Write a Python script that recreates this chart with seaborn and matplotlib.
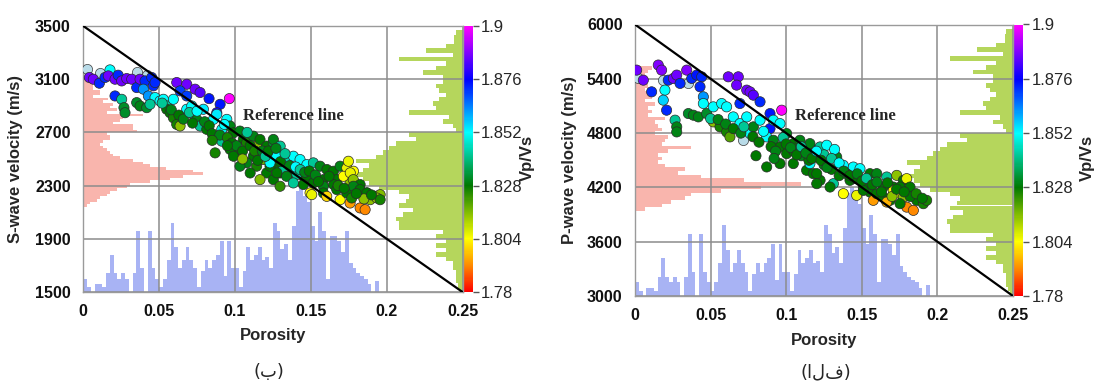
import numpy as np
import matplotlib
matplotlib.use("Agg")
import matplotlib.pyplot as plt
import seaborn as sns
from matplotlib.colors import LinearSegmentedColormap, Normalize
from matplotlib.cm import ScalarMappable

sns.set_theme(style="white")
plt.rcParams['font.family'] = ['Liberation Sans', 'DejaVu Sans']

# ---------------- data: S-wave panel (ب) ----------------
phi_s = [0.004, 0.0066, 0.0106, 0.0143, 0.0176, 0.0165, 0.0209, 0.023, 0.0253, 0.0286,
         0.0319, 0.0352, 0.0374, 0.0407, 0.0451, 0.0462, 0.0473, 0.0396, 0.0429, 0.0473,
         0.0209, 0.0253, 0.0268, 0.0275, 0.0352, 0.0374, 0.0418, 0.044, 0.0506, 0.0528,
         0.055, 0.0594, 0.0616, 0.0682, 0.0737, 0.077, 0.0829, 0.0902, 0.0963, 0.088,
         0.0638, 0.0682, 0.055, 0.0572, 0.0594, 0.0616, 0.0638, 0.0682, 0.0715, 0.0726,
         0.0748, 0.077, 0.0792, 0.0814, 0.0858, 0.088, 0.0913, 0.0946, 0.0968, 0.099,
         0.1033, 0.1055, 0.1077, 0.1121, 0.1143, 0.1165, 0.1209, 0.1253, 0.0869, 0.0913,
         0.0968, 0.1033, 0.1121, 0.1187, 0.1242, 0.1275, 0.099, 0.1077, 0.1143, 0.1209,
         0.1253, 0.1297, 0.1165, 0.11, 0.1033, 0.1231, 0.1286, 0.1297, 0.1253, 0.1298,
         0.1276, 0.1342, 0.1385, 0.1429, 0.1474, 0.1517, 0.1561, 0.1606, 0.1649, 0.1693,
         0.1737, 0.1781, 0.1748, 0.1583, 0.1671, 0.1759, 0.1451, 0.1363, 0.1231, 0.1319,
         0.1276, 0.134, 0.1408, 0.1474, 0.1517, 0.1583, 0.165, 0.1715, 0.176, 0.178,
         0.1825, 0.187, 0.1935, 0.1957, 0.1385, 0.1451, 0.1495, 0.1506, 0.1583, 0.1605,
         0.1671, 0.1693, 0.1737, 0.1759, 0.177, 0.1781, 0.1825, 0.1825, 0.1858, 0.187,
         0.1891, 0.1935, 0.1957,
         0.052, 0.058, 0.063, 0.066, 0.07, 0.072, 0.075, 0.08, 0.083, 0.085,
         0.09, 0.093, 0.095, 0.098, 0.101, 0.105, 0.108, 0.11, 0.113, 0.115,
         0.118, 0.12, 0.122, 0.127, 0.13, 0.133, 0.136, 0.14, 0.143, 0.146,
         0.149, 0.153, 0.155, 0.162, 0.168, 0.172, 0.185, 0.19, 0.18, 0.105,
         0.095, 0.085]
vs = [3113, 3100, 3070, 3113, 3170, 3125, 3100, 3130, 3087, 3105,
      3100, 3037, 3100, 3087, 3113, 3050, 3075, 3025, 2974, 2962,
      2974, 2949, 2886, 2848, 2924, 2899, 2886, 2911, 2936, 2949,
      2899, 2949, 3075, 3062, 3025, 3000, 2954, 2911, 2954, 2848,
      3012, 2974, 2874, 2848, 2810, 2760, 2748, 2874, 2899, 2836,
      2798, 2748, 2874, 2723, 2798, 2836, 2723, 2798, 2748, 2697,
      2710, 2647, 2622, 2672, 2597, 2647, 2597, 2622, 2546, 2634,
      2572, 2546, 2521, 2496, 2521, 2446, 2521, 2471, 2446, 2395,
      2345, 2295, 2345, 2395, 2446, 2446, 2521, 2395, 2647, 2597,
      2521, 2496, 2521, 2496, 2458, 2471, 2446, 2421, 2408, 2446,
      2433, 2408, 2483, 2345, 2345, 2320, 2370, 2396, 2471, 2421,
      2396, 2370, 2383, 2358, 2320, 2295, 2308, 2370, 2396, 2345,
      2308, 2245, 2220, 2232, 2320, 2308, 2245, 2232, 2245, 2219,
      2270, 2194, 2245, 2169, 2207, 2295, 2270, 2132, 2119, 2245,
      2194, 2207, 2194,
      2920, 2870, 2830, 2800, 2850, 2770, 2860, 2780, 2750, 2690,
      2680, 2760, 2660, 2620, 2600, 2560, 2700, 2600, 2560, 2490,
      2560, 2520, 2560, 2580, 2480, 2540, 2450, 2440, 2420, 2400,
      2410, 2380, 2330, 2370, 2300, 2280, 2200, 2230, 2240, 2500,
      2600, 2640]
vpvs_s = [1.886, 1.886, 1.872, 1.872, 1.852, 1.886, 1.886, 1.872, 1.886, 1.886,
          1.886, 1.872, 1.886, 1.872, 1.872, 1.872, 1.872, 1.862, 1.862, 1.852,
          1.872, 1.842, 1.832, 1.832, 1.832, 1.830, 1.832, 1.842, 1.852, 1.852,
          1.842, 1.852, 1.886, 1.886, 1.886, 1.884, 1.874, 1.874, 1.900, 1.878,
          1.870, 1.870, 1.828, 1.828, 1.826, 1.826, 1.815, 1.852, 1.852, 1.842,
          1.830, 1.842, 1.854, 1.828, 1.852, 1.854, 1.850, 1.852, 1.830, 1.828,
          1.830, 1.828, 1.826, 1.830, 1.815, 1.828, 1.828, 1.832, 1.826, 1.842,
          1.828, 1.828, 1.828, 1.818, 1.830, 1.828, 1.828, 1.830, 1.826, 1.828,
          1.828, 1.824, 1.816, 1.828, 1.830, 1.828, 1.832, 1.828, 1.830, 1.842,
          1.852, 1.844, 1.852, 1.852, 1.852, 1.842, 1.830, 1.828, 1.828, 1.830,
          1.806, 1.804, 1.806, 1.828, 1.828, 1.815, 1.828, 1.830, 1.852, 1.842,
          1.828, 1.830, 1.842, 1.828, 1.828, 1.830, 1.828, 1.804, 1.806, 1.815,
          1.828, 1.826, 1.816, 1.816, 1.842, 1.828, 1.804, 1.806, 1.828, 1.800,
          1.828, 1.804, 1.828, 1.794, 1.826, 1.830, 1.828, 1.792, 1.792, 1.828,
          1.815, 1.815, 1.826,
          1.842, 1.830, 1.828, 1.830, 1.842, 1.828, 1.852, 1.830, 1.828, 1.828,
          1.830, 1.852, 1.826, 1.828, 1.830, 1.828, 1.842, 1.828, 1.826, 1.828,
          1.830, 1.842, 1.828, 1.830, 1.828, 1.842, 1.830, 1.852, 1.842, 1.830,
          1.828, 1.830, 1.828, 1.828, 1.826, 1.828, 1.815, 1.828, 1.828, 1.815,
          1.828, 1.826]
phi_s_pale = [0.0026, 0.011, 0.0352, 0.0418]
vs_pale = [3180, 3145, 3155, 3130]

# ---------------- data: P-wave panel (الف) ----------------
phi_p = [0.0011, 0.0055, 0.011, 0.0154, 0.0176, 0.0198, 0.0187, 0.0209, 0.022, 0.0254,
         0.0276, 0.0298, 0.0342, 0.0375, 0.0408, 0.0441, 0.043, 0.0452, 0.0265, 0.0276,
         0.0276, 0.0353, 0.0386, 0.0419, 0.0452, 0.0474, 0.0518, 0.0518, 0.0573, 0.0606,
         0.0617, 0.0683, 0.0672, 0.0694, 0.0739, 0.0761, 0.0783, 0.0827, 0.0893, 0.097,
         0.0893, 0.0562, 0.0606, 0.0628, 0.065, 0.0694, 0.0739, 0.0761, 0.0783, 0.0827,
         0.0871, 0.0915, 0.0959, 0.0915, 0.0959, 0.1003, 0.1047, 0.1091, 0.1135, 0.1179,
         0.1201, 0.0871, 0.0959, 0.1003, 0.1047, 0.1135, 0.1179, 0.1224, 0.1157, 0.1224,
         0.1268, 0.1334, 0.1378, 0.1444, 0.1488, 0.1554, 0.1599, 0.1665, 0.1731, 0.1775,
         0.1797, 0.1819, 0.1708, 0.1642, 0.1157, 0.1202, 0.1312, 0.1422, 0.151, 0.1554,
         0.1753, 0.1378, 0.1466, 0.1576, 0.1599, 0.1642, 0.1687, 0.1708, 0.1753, 0.1775,
         0.1797, 0.1841, 0.1863, 0.1907, 0.1929, 0.1753, 0.1665, 0.129, 0.1202, 0.151,
         0.105, 0.11, 0.115, 0.125, 0.13, 0.135, 0.14, 0.145, 0.125, 0.132,
         0.05, 0.055, 0.06, 0.065, 0.07, 0.072, 0.078, 0.082, 0.085, 0.09,
         0.093, 0.098, 0.1, 0.103, 0.107, 0.11, 0.113, 0.117, 0.12, 0.123,
         0.127, 0.13, 0.135, 0.138, 0.142, 0.147, 0.15, 0.153, 0.157, 0.16,
         0.163, 0.167, 0.17, 0.173, 0.182, 0.186, 0.178, 0.19, 0.08, 0.092]
vp = [5496, 5385, 5256, 5552, 5496, 5275, 5164, 5053, 5385, 5404,
      5441, 5349, 5496, 5404, 5441, 5422, 5312, 5201, 4943, 4869,
      4813, 5016, 4998, 4979, 5127, 5016, 5090, 4924, 5127, 5090,
      5422, 5422, 5330, 5127, 5275, 5256, 5219, 5146, 5016, 5053,
      4850, 4869, 4813, 4758, 4979, 4905, 4979, 4795, 4869, 4943,
      4758, 4943, 4905, 4721, 4647, 4795, 4684, 4721, 4647, 4610,
      4536, 4426, 4463, 4573, 4463, 4389, 4352, 4278, 4684, 4647,
      4666, 4536, 4444, 4425, 4407, 4352, 4352, 4315, 4333, 4278,
      4297, 4204, 4204, 4204, 4463, 4352, 4241, 4278, 4204, 4148,
      4131, 4131, 4112, 4057, 4131, 4093, 4057, 4167, 4204, 4093,
      3982, 3946, 4057, 4020, 4057, 4020, 4038, 4204, 4241, 4167,
      4600, 4550, 4500, 4450, 4400, 4330, 4350, 4300, 4560, 4620,
      4960, 4950, 4900, 4850, 4800, 4870, 4760, 4700, 4820, 4650,
      4600, 4750, 4680, 4640, 4560, 4650, 4580, 4520, 4600, 4500,
      4420, 4520, 4470, 4380, 4330, 4350, 4270, 4300, 4230, 4260,
      4150, 4250, 4100, 4180, 4100, 4130, 4150, 4080, 4550, 4520]
vpvs_p = [1.886, 1.886, 1.872, 1.888, 1.888, 1.852, 1.856, 1.872, 1.872, 1.886,
          1.886, 1.872, 1.888, 1.872, 1.874, 1.872, 1.872, 1.862, 1.842, 1.830,
          1.830, 1.832, 1.830, 1.830, 1.852, 1.832, 1.852, 1.815, 1.852, 1.852,
          1.886, 1.886, 1.886, 1.872, 1.886, 1.886, 1.884, 1.872, 1.874, 1.900,
          1.874, 1.826, 1.826, 1.820, 1.852, 1.852, 1.852, 1.852, 1.830, 1.852,
          1.852, 1.852, 1.852, 1.830, 1.828, 1.830, 1.828, 1.830, 1.828, 1.828,
          1.828, 1.828, 1.828, 1.828, 1.828, 1.828, 1.828, 1.828, 1.830, 1.842,
          1.852, 1.830, 1.852, 1.852, 1.852, 1.828, 1.830, 1.842, 1.815, 1.828,
          1.806, 1.828, 1.828, 1.828, 1.852, 1.828, 1.842, 1.828, 1.828, 1.828,
          1.804, 1.804, 1.806, 1.794, 1.828, 1.828, 1.828, 1.804, 1.828, 1.815,
          1.792, 1.792, 1.828, 1.826, 1.826, 1.828, 1.796, 1.828, 1.828, 1.828,
          1.828, 1.830, 1.828, 1.830, 1.828, 1.828, 1.830, 1.828, 1.842, 1.852,
          1.842, 1.830, 1.830, 1.828, 1.830, 1.842, 1.828, 1.828, 1.852, 1.828,
          1.830, 1.842, 1.828, 1.830, 1.828, 1.842, 1.830, 1.828, 1.852, 1.828,
          1.830, 1.842, 1.852, 1.830, 1.828, 1.830, 1.828, 1.842, 1.828, 1.830,
          1.828, 1.828, 1.815, 1.828, 1.828, 1.826, 1.828, 1.828, 1.828, 1.830]
phi_p_pale = [0.0022, 0.0187, 0.0353, 0.0717]
vp_pale = [5404, 5385, 5349, 4721]

# ---------------- marginal histograms ----------------
# porosity histogram, 80 bins of 0.0025 from 0 to 0.2
phi_hist_counts = [5, 2, 0, 3, 3, 2, 7, 14, 7, 5, 7, 5, 0, 7, 23, 9, 0, 23, 9, 5,
                   2, 5, 12, 26, 17, 9, 12, 17, 12, 9, 2, 8, 12, 9, 12, 14, 19, 6, 19, 9,
                   9, 2, 8, 17, 12, 14, 17, 12, 13, 9, 26, 23, 16, 18, 12, 25, 38, 40, 36, 34,
                   25, 19, 30, 23, 5, 21, 21, 19, 15, 23, 11, 9, 7, 6, 5, 3, 0, 4, 0, 0]
# S-wave velocity histogram, 49 bins of 20 m/s from 2140 to 3120
vs_hist_counts = [1, 2, 4, 5, 7, 8, 10, 13, 14, 20, 26, 30, 36, 33, 25, 20, 18, 15, 11, 9,
                  8, 7, 6, 5, 6, 8, 8, 7, 16, 15, 15, 9, 11, 12, 18, 7, 10, 8, 9, 6,
                  7.5, 3, 5, 5, 3, 3, 3, 3, 3]
# P-wave velocity histogram, 40 bins of 40 m/s from 3940 to 5540
vp_hist_counts = [3, 8, 11, 15, 17, 26, 38, 50, 33, 20, 13, 15, 9, 7, 8, 7, 10, 17, 8, 9,
                  10, 6, 8, 7, 6, 9, 4, 5, 4, 6, 3, 5, 4, 3, 4, 3, 3, 3, 4, 5]
# Vp/Vs histogram, 60 bins of 0.002 from 1.78 to 1.9
vpvs_hist_counts = [1, 1.5, 2, 2, 2, 3, 3, 5, 8, 5, 8, 5, 8, 6, 19, 19, 20, 18, 15, 19,
                    17, 16, 19, 25, 28, 30, 32, 30, 28, 32, 26, 24, 22, 20, 14, 16, 2, 3, 6, 4,
                    16, 8, 9, 7, 5, 7, 8, 6, 6, 12, 8, 5, 19, 3, 11, 5, 2.5, 2.5, 2, 0]

x_ticks = [0, 0.05, 0.1, 0.15, 0.2, 0.25]
x_ticklabels = ['0', '0.05', '0.1', '0.15', '0.2', '0.25']
vs_ticks = [1500, 1900, 2300, 2700, 3100, 3500]
vp_ticks = [3000, 3600, 4200, 4800, 5400, 6000]
cb_ticks = [1.78, 1.804, 1.828, 1.852, 1.876, 1.9]
cb_ticklabels = ['1.78', '1.804', '1.828', '1.852', '1.876', '1.9']
ref_phi = [0, 0.25]
ref_vs = [3500, 1500]
ref_vp = [6000, 3000]

# ---------------- style ----------------
cmap = LinearSegmentedColormap.from_list(
    'vpvs', [(0.0, '#ff0000'), (0.1, '#ff8c00'), (0.2, '#ffff00'), (0.4, '#007800'),
             (0.6, '#00ffff'), (0.8, '#0000ff'), (1.0, '#ff00ff')])
norm = Normalize(1.78, 1.9)
C_BLUE = '#a8b3f4'
C_PINK = '#f9b5ad'
C_GREEN = '#b5d65c'
C_PALE = '#b9dbe8'
MS = 54

W, H = 1094, 382
fig = plt.figure(figsize=(W / 100, H / 100), dpi=100)


def frac(x0, y0, x1, y1):
    return [x0 / W, 1 - y1 / H, (x1 - x0) / W, (y1 - y0) / H]


def panel(px, cbx, phi, vel, vpvs, phi_pale, vel_pale, vel_hist, vel_lo, vel_step,
          yticks, ylabel, ref_vel, ref_xy, cap, cap_x, lab_x, ylab_x):
    rect = frac(*px)
    ylim = (yticks[0], yticks[-1])
    # porosity histogram (bottom)
    a1 = fig.add_axes(rect, zorder=0)
    centers = 0.00125 + 0.0025 * np.arange(len(phi_hist_counts))
    sns.histplot(x=centers, weights=phi_hist_counts, bins=len(phi_hist_counts),
                 binrange=(0, 0.2), color=C_BLUE, alpha=1, linewidth=0, ax=a1)
    a1.set_xlim(0, 0.25); a1.set_ylim(0, 100); a1.set_axis_off()
    # velocity histogram (left)
    a2 = fig.add_axes(rect, zorder=0)
    nb = len(vel_hist)
    vc = vel_lo + vel_step / 2 + vel_step * np.arange(nb)
    sns.histplot(y=vc, weights=vel_hist, bins=nb, binrange=(vel_lo, vel_lo + vel_step * nb),
                 color=C_PINK, alpha=1, linewidth=0, ax=a2)
    a2.set_xlim(0, 114); a2.set_ylim(*ylim); a2.set_axis_off()
    # vp/vs histogram (right)
    a3 = fig.add_axes(rect, zorder=0)
    rc = 1.781 + 0.002 * np.arange(len(vpvs_hist_counts))
    sns.histplot(y=rc, weights=vpvs_hist_counts, bins=len(vpvs_hist_counts),
                 binrange=(1.78, 1.9), color=C_GREEN, alpha=1, linewidth=0, ax=a3)
    a3.set_xlim(114, 0); a3.set_ylim(1.78, 1.9); a3.set_axis_off()

    ax = fig.add_axes(rect, zorder=2)
    ax.set_facecolor('none')
    ax.set_axisbelow(True)
    ax.grid(True, color='#8c8c8c', lw=1.1)
    sns.scatterplot(x=phi_pale, y=vel_pale, color=C_PALE, s=MS, edgecolor='#3a3a3a',
                    linewidth=0.5, ax=ax, zorder=3)
    sns.scatterplot(x=phi, y=vel, hue=vpvs, palette=cmap, hue_norm=norm, s=MS,
                    edgecolor='#2a2a2a', linewidth=0.5, legend=False, ax=ax, zorder=3)
    ax.plot(ref_phi, ref_vel, color='black', lw=1.6, zorder=4)
    ax.text(ref_xy[0], ref_xy[1], 'Reference line', family='Liberation Serif',
            fontweight='bold', fontsize=12, ha='left', va='center', zorder=5)
    ax.set_xlim(0, 0.25); ax.set_ylim(*ylim)
    ax.set_xticks(x_ticks)
    ax.set_xticklabels(x_ticklabels, fontweight='bold', fontsize=11.5)
    ax.set_yticks(yticks)
    ax.set_yticklabels([str(t) for t in yticks], fontweight='bold', fontsize=11.5)
    ax.tick_params(length=0, pad=9, colors='#111111')
    for sp in ax.spines.values():
        sp.set_color('#9a9a9a'); sp.set_linewidth(1.0)
    ax.set_xlabel('Porosity', fontweight='bold', fontsize=12)
    ax.xaxis.set_label_coords(0.5, -0.135)
    ax.set_ylabel(ylabel, fontweight='bold', fontsize=12)
    ax.yaxis.set_label_coords(ylab_x, 0.5)

    cax = fig.add_axes(frac(*cbx))
    cb = fig.colorbar(ScalarMappable(norm=norm, cmap=cmap), cax=cax, ticks=cb_ticks)
    cb.set_ticklabels(cb_ticklabels)
    cb.outline.set_visible(False)
    cax.tick_params(length=4, width=1, color='#555555', pad=2, labelsize=12)
    fig.text(lab_x / W, 1 - 158 / H, 'Vp/Vs', rotation=90, fontweight='bold',
             fontsize=12, ha='center', va='center')
    fig.text(cap_x / W, 1 - 372 / H, cap, fontsize=13, ha='center', va='center',
             family=['DejaVu Sans'])
    return ax


panel((83.3, 26, 462.5, 292), (462.7, 26, 472.5, 292), phi_s, vs, vpvs_s, phi_s_pale, vs_pale,
      vs_hist_counts, 2140, 20, vs_ticks, 'S-wave velocity (m/s)', ref_vs,
      (0.1053, 2823), '(ب)', 269, 527, -0.158)
panel((635, 24.5, 1013, 296), (1013.5, 24.5, 1023, 296), phi_p, vp, vpvs_p, phi_p_pale, vp_pale,
      vp_hist_counts, 3940, 40, vp_ticks, 'P-wave velocity (m/s)', ref_vp,
      (0.1058, 4988), '(الف)', 826, 1087, -0.153)

fig.savefig('out.png', dpi=100, facecolor='white')
